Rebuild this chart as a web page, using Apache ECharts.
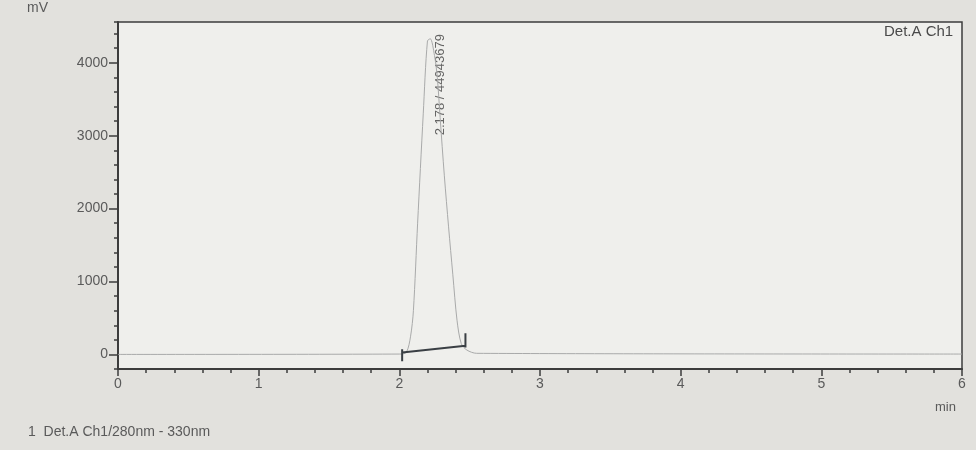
<!DOCTYPE html>
<html><head><meta charset="utf-8">
<script src="https://cdn.jsdelivr.net/npm/echarts@6/dist/echarts.min.js"></script>
<style>html,body{margin:0;padding:0;background:#e2e1dd;}#c{width:976px;height:450px;}</style>
</head><body><div id="c"></div>
<script>
// chromatogram signal (time in min, mV)
const sigTime = [0, 2.00, 2.05, 2.08, 2.10, 2.13, 2.17, 2.20, 2.22, 2.25, 2.27, 2.29, 2.32, 2.35, 2.38, 2.41, 2.44, 2.48, 2.55, 6.0];
const sigMV   = [0,    5,   30,  250,  600, 1800, 3300, 4300, 4330, 4100, 3800, 3250, 2450, 1750, 1100,  470,  150,   60,   15,   5];
// integration baseline with end markers
const baseTime = [2.02, 2.02, null, 2.02, 2.47, null, 2.47, 2.47];
const baseMV   = [-95,  70,   null, 25,   120,  null, 95,   290];
// peak annotation
const peakTime = [2.29];
const peakMV = [3700];
const peakText = ['2.178 / 44943679'];
const yTicks = [0, 1000, 2000, 3000, 4000];
const xTicks = [0, 1, 2, 3, 4, 5, 6];

const chart = echarts.init(document.getElementById('c'));
const axisCol = '#3c3c3c', txtCol = '#5a5a5a';
chart.setOption({
  backgroundColor: '#e2e1dd',
  animation: false,
  grid: {left: 118, right: 14, top: 22, bottom: 81, show: true, backgroundColor: '#efefec', borderColor: axisCol, borderWidth: 1.5},
  xAxis: {type: 'value', min: 0, max: 6, interval: 1,
    axisLine: {show: true, onZero: false, lineStyle: {color: axisCol, width: 2}},
    axisTick: {show: true, length: 7, lineStyle: {color: axisCol, width: 1.5}},
    minorTick: {show: true, splitNumber: 5, length: 4, lineStyle: {color: axisCol, width: 1.5}},
    axisLabel: {color: txtCol, fontSize: 14, fontFamily: 'Liberation Sans, Arial', margin: 8,
      formatter: v => xTicks.includes(v) ? String(v) : ''},
    splitLine: {show: false}},
  yAxis: [
    {type: 'value', min: -200, max: 4560, position: 'left',
      axisLine: {show: true, onZero: false, lineStyle: {color: axisCol, width: 2}},
      axisTick: {show: true, length: 9, customValues: yTicks, lineStyle: {color: axisCol, width: 1.5}},
      axisLabel: {color: txtCol, fontSize: 14, fontFamily: 'Liberation Sans, Arial', margin: 10, customValues: yTicks,
        formatter: v => String(v)},
      splitLine: {show: false}},
    {type: 'value', min: -200, max: 4560, interval: 200, position: 'left', offset: 0,
      axisLine: {show: false},
      axisTick: {show: true, length: 4, lineStyle: {color: axisCol, width: 1.5}},
      axisLabel: {show: false}, splitLine: {show: false}}
  ],
  graphic: [
    {type: 'text', left: 27, top: 1, style: {text: 'mV', fill: txtCol, font: '14px Liberation Sans, Arial'}},
    {type: 'text', left: 935, top: 401, style: {text: 'min', fill: txtCol, font: '13px Liberation Sans, Arial'}},
    {type: 'text', left: 884, top: 24, style: {text: 'Det.A Ch1', fill: '#4a4a4a', font: '15px Liberation Sans, Arial'}},
    {type: 'text', left: 28, top: 425, style: {text: '1  Det.A Ch1/280nm - 330nm', fill: txtCol, font: '14px Liberation Sans, Arial'}}
  ],
  series: [
    {type: 'line', data: sigTime.map((t, i) => [t, sigMV[i]]), showSymbol: false, smooth: 0.3,
      lineStyle: {color: '#a9aaaa', width: 1}},
    {type: 'line', data: baseTime.map((t, i) => [t, baseMV[i]]), showSymbol: false, connectNulls: false,
      lineStyle: {color: '#3a3f44', width: 2}},
    {type: 'scatter', data: peakTime.map((t, i) => [t, peakMV[i]]), symbolSize: 0,
      label: {show: true, position: 'inside', rotate: 90, formatter: p => peakText[p.dataIndex],
        color: '#404040', fontSize: 13, fontFamily: 'Liberation Sans, Arial'}}
  ]
});
</script></body></html>
